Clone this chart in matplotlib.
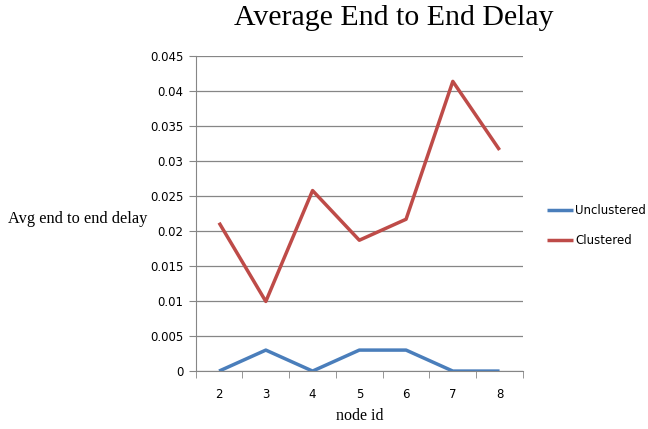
import numpy as np
import matplotlib.pyplot as plt

node_ids = [2, 3, 4, 5, 6, 7, 8]
unclustered = [0.0, 0.003, 0.0, 0.003, 0.003, 0.0, 0.0]
clustered = [0.0212, 0.00995, 0.0258, 0.0187, 0.0217, 0.0414, 0.0316]
y_ticks = [0, 0.005, 0.01, 0.015, 0.02, 0.025, 0.03, 0.035, 0.04, 0.045]
y_tick_labels = ["0", "0.005", "0.01", "0.015", "0.02", "0.025", "0.03", "0.035", "0.04", "0.045"]

fig = plt.figure(figsize=(6.48, 4.29), dpi=100)
ax = fig.add_axes([0.302, 0.135, 0.505, 0.734])

ax.plot(node_ids, unclustered, color="#4a7ebb", linewidth=2.5, label="Unclustered", solid_capstyle="butt")
ax.plot(node_ids, clustered, color="#be4b48", linewidth=2.5, label="Clustered", solid_capstyle="butt")

ax.set_xlim(1.5, 8.5)
ax.set_ylim(0, 0.045)
ax.set_yticks(y_ticks)
ax.set_yticklabels(y_tick_labels)
ax.set_xticks(node_ids)
ax.set_xticks(np.arange(1.5, 8.6, 1), minor=True)
ax.tick_params(axis="x", which="major", length=0, pad=12, labelsize=8.5)
ax.tick_params(axis="x", which="minor", length=5, direction="out", color="#868686")
ax.tick_params(axis="y", length=5, direction="out", color="#868686", labelsize=8.5, pad=4)

ax.grid(axis="y", color="#868686", linewidth=0.9)
ax.set_axisbelow(True)
for side in ["top", "right"]:
    ax.spines[side].set_visible(False)
for side in ["left", "bottom"]:
    ax.spines[side].set_color("#868686")

# chart title sits over the whole chart area, not just the axes
fig.text(0.608, 0.958, "Average End to End Delay", fontfamily="Liberation Serif", fontsize=21.5,
         ha="center", va="center")
ax.set_xlabel("node id", fontfamily="Liberation Serif", fontsize=11.5, labelpad=5)
fig.text(0.012, 0.49, "Avg end to end delay", fontfamily="Liberation Serif", fontsize=11.8, va="center")

ax.legend(loc="center left", bbox_to_anchor=(1.04, 0.462), frameon=False, fontsize=8.5,
          handlelength=2.2, labelspacing=1.5, handletextpad=0.2)

fig.savefig("out.png", dpi=100)
